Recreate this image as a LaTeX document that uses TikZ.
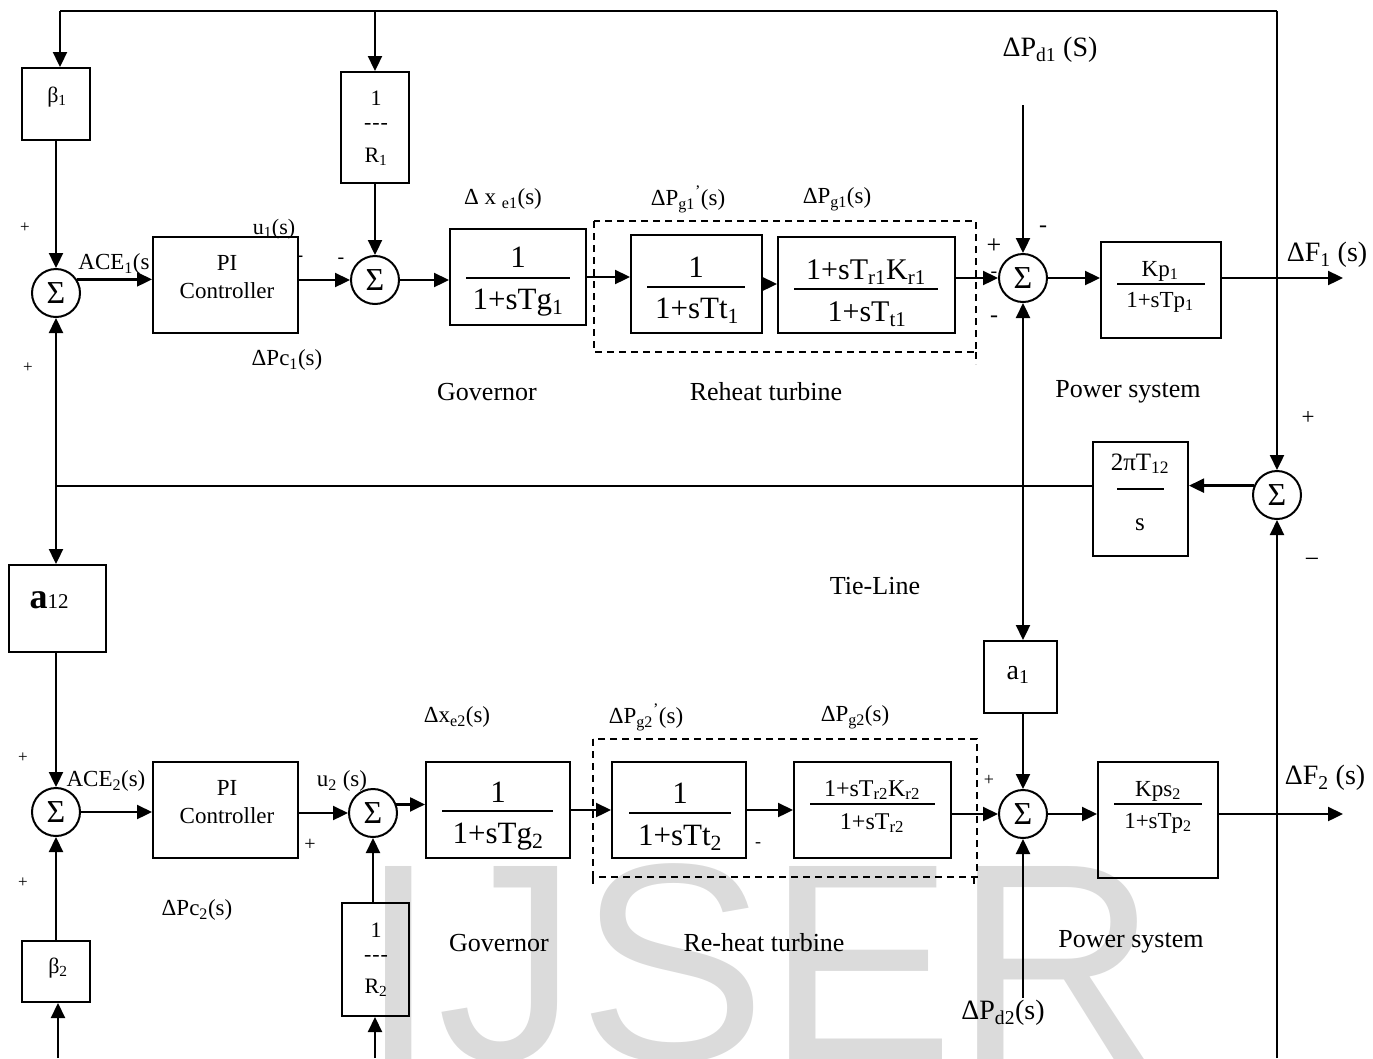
\documentclass[tikz,border=0pt]{standalone}
\usepackage{fontspec}
\setmainfont{Liberation Serif}
\newfontfamily\wmfont{Liberation Sans}
\usetikzlibrary{arrows.meta}
\newcommand\fs[1]{\fontsize{#1}{#1}\selectfont}
\newcommand\sbb[1]{\textsubscript{#1}}
\newcommand\tdash{-\kern1pt-\kern1pt-}
\begin{document}
\begin{tikzpicture}[x=1pt,y=-1pt,
  >={Triangle[length=15pt,width=14pt]},
  conn/.style={line width=2.3pt},
  box/.style={draw, line width=2pt, inner sep=0pt},
  sumn/.style={draw, circle, line width=2pt, minimum size=48pt, inner sep=0pt, font=\fs{32}},
  lbl/.style={inner sep=0pt},
  fr/.style={inner sep=0pt, anchor=base},
  bar/.style={line width=1.7pt},
  dbox/.style={line width=1.7pt, dash pattern=on 7pt off 5pt},
]
\useasboundingbox (0,0) rectangle (1373,1058);
\clip (0,0) rectangle (1373,1058);

% watermark
\node[inner sep=0pt, anchor=base west, text=black!14, font=\wmfont\fs{282}] (wm) at (359,1060) {IJSER};

% ---------- blocks ----------
\node[box, minimum width=68pt, minimum height=72pt] (bet1) at (56,104) {};
\node[box, minimum width=68pt, minimum height=111pt] (r1) at (375,127.5) {};
\node[box, minimum width=145pt, minimum height=96pt] (pi1) at (225.5,285) {};
\node[box, minimum width=136pt, minimum height=96pt] (gov1) at (518,277) {};
\node[box, minimum width=131pt, minimum height=98pt] (t11) at (696.5,284) {};
\node[box, minimum width=177pt, minimum height=96pt] (t21) at (866.5,285) {};
\node[box, minimum width=120pt, minimum height=96pt] (kp1) at (1161,290) {};
\node[box, minimum width=95pt, minimum height=114pt] (tie) at (1140.5,499) {};
\node[box, minimum width=97pt, minimum height=87pt] (a12) at (57.5,608.5) {};
\node[box, minimum width=73pt, minimum height=72pt] (a1) at (1020.5,677) {};
\node[box, minimum width=145pt, minimum height=96pt] (pi2) at (225.5,810) {};
\node[box, minimum width=144pt, minimum height=96pt] (gov2) at (498,810) {};
\node[box, minimum width=134pt, minimum height=96pt] (t12) at (679,810) {};
\node[box, minimum width=157pt, minimum height=96pt] (t22) at (872.5,810) {};
\node[box, minimum width=120pt, minimum height=116pt] (kp2) at (1158,820) {};
\node[box, minimum width=68pt, minimum height=61pt] (bet2) at (56,971.5) {};
\node[box, minimum width=67pt, minimum height=113pt] (r2) at (375,959.5) {};

% summing junctions
\node[sumn] (s1) at (56,293) {Σ};
\node[sumn] (s2) at (375,280) {Σ};
\node[sumn] (s3) at (1023,278) {Σ};
\node[sumn] (s4) at (1277,495) {Σ};
\node[sumn] (s5) at (1023,814) {Σ};
\node[sumn] (s6) at (56,812) {Σ};
\node[sumn] (s7) at (373,813) {Σ};

% dashed turbine frames
\draw[dbox] (594,221) rectangle (976,352);
\draw[dbox] (976,352) -- (976,364);
\draw[dbox] (593,739) rectangle (977,877);
\draw[dbox] (593,877) -- (593,889);
\draw[dbox] (974,877) -- (974,889);

% ---------- block contents ----------
\node[lbl, font=\fs{22}] (bet1t) at (57,97) {β\sbb{1}};
\node[fr, font=\fs{22}] (r1n) at (376,105) {1};
\node[lbl, font=\fs{22}] (r1d) at (376,126) {\tdash};
\node[fr, font=\fs{22}] (r1r) at (376,162) {R\sbb{1}};
\node[fr, font=\fs{23}] (pi1a) at (227,270) {PI};
\node[fr, font=\fs{23}] (pi1b) at (227,298) {Controller};

\node[fr, font=\fs{31}] (g1n) at (518,267) {1};
\draw[bar] (466,278) -- (570,278);
\node[fr, font=\fs{31}] (g1d) at (518,309) {1+sTg\sbb{1}};

\node[fr, font=\fs{31}] (t11n) at (696,277) {1};
\draw[bar] (647,287) -- (745,287);
\node[fr, font=\fs{31}] (t11d) at (697,318) {1+sTt\sbb{1}};

\node[fr, font=\fs{30}] (t21n) at (866,279) {1+sT\sbb{r1}K\sbb{r1}};
\draw[bar] (794,289) -- (938,289);
\node[fr, font=\fs{30}] (t21d) at (867,321) {1+sT\sbb{t1}};

\node[fr, font=\fs{23}] (kp1n) at (1160,276) {Kp\sbb{1}};
\draw[bar] (1117,284) -- (1205,284);
\node[fr, font=\fs{23}] (kp1d) at (1160,307) {1+sTp\sbb{1}};

\node[fr, font=\fs{25}] (tien) at (1140,470) {2πT\sbb{12}};
\draw[bar] (1117,489) -- (1164,489);
\node[fr, font=\fs{25}] (tied) at (1140,530) {s};

\node[lbl] (a12t) at (49,600) {{\fs{36}\bfseries a}{\fs{21}12}};
\node[lbl, font=\fs{28}] (a1t) at (1018,675) {a\sbb{1}};

\node[fr, font=\fs{23}] (pi2a) at (227,795) {PI};
\node[fr, font=\fs{23}] (pi2b) at (227,823) {Controller};

\node[fr, font=\fs{31}] (g2n) at (498,802) {1};
\draw[bar] (442,811) -- (553,811);
\node[fr, font=\fs{31}] (g2d) at (498,843) {1+sTg\sbb{2}};

\node[fr, font=\fs{31}] (t12n) at (680,803) {1};
\draw[bar] (629,813) -- (731,813);
\node[fr, font=\fs{31}] (t12d) at (680,845) {1+sTt\sbb{2}};

\node[fr, font=\fs{24}] (t22n) at (872,796) {1+sT\sbb{r2}K\sbb{r2}};
\draw[bar] (810,804) -- (935,804);
\node[fr, font=\fs{24}] (t22d) at (872,829) {1+sT\sbb{r2}};

\node[fr, font=\fs{23}] (kp2n) at (1158,796) {Kps\sbb{2}};
\draw[bar] (1114,804) -- (1202,804);
\node[fr, font=\fs{23}] (kp2d) at (1158,828) {1+sTp\sbb{2}};

\node[lbl, font=\fs{22}] (bet2t) at (58,968) {β\sbb{2}};
\node[fr, font=\fs{22}] (r2n) at (376,937) {1};
\node[lbl, font=\fs{22}] (r2d) at (376,958) {\tdash};
\node[fr, font=\fs{22}] (r2r) at (376,993) {R\sbb{2}};

% ---------- named end points ----------
\coordinate (tl) at (60,11);
\coordinate (tr1) at (375,11);
\coordinate (tr) at (1277,11);
\coordinate (pd1) at (1023,105);
\coordinate (f1) at (1343,278);
\coordinate (tj) at (1093,486);
\coordinate (tjl) at (56,486);
\coordinate (f2) at (1343,814);
\coordinate (pd2) at (1023,998);
\coordinate (bs4) at (1277,1058);
\coordinate (br2) at (375,1058);
\coordinate (bb2) at (58,1058);

% ---------- connectors ----------
\draw[conn] (tl) -- (tr);
\draw[conn,->] (tl) -- (tl |- bet1.north);
\draw[conn,->] (tr1) -- (r1.north);
\draw[conn,->] (tr) -- (s4.north);
\draw[conn,->] (bet1.south) -- (s1.north);
\draw[conn,->] (s1.33) -- (s1.33 -| pi1.west);
\draw[conn,->] (pi1.east |- s2.west) -- (s2.west);
\draw[conn,->] (r1.south) -- (s2.north);
\draw[conn,->] (s2.east) -- (s2.east -| gov1.west);
\draw[conn,->] (gov1.east) -- (gov1.east -| t11.west);
\draw[conn,->] (t11.east) -- (t11.east -| t21.west);
\draw[conn,->] (t21.east |- s3.west) -- (s3.west);
\draw[conn,->] (pd1) -- (s3.north);
\draw[conn,->] (s3.east) -- (s3.east -| kp1.west);
\draw[conn,->] (kp1.east |- s3.east) -- (f1);
\draw[conn,<->] (s3.south) -- (s3.south |- a1.north);
\draw[line width=1.8pt] (tj) -- (tjl);
\draw[conn,->] (s4.158) -- (s4.158 -| tie.east);
\draw[conn,<->] (s1.south) -- (s1.south |- a12.north);
\draw[conn,->] (s6 |- a12.south) -- (s6.north);
\draw[conn,->] (s6.east) -- (s6.east -| pi2.west);
\draw[conn,->] (pi2.east |- s7.west) -- (s7.west);
\draw[conn,->] (s7.20) -- (s7.20 -| gov2.west);
\draw[conn,->] (s7 |- r2.north) -- (s7.south);
\draw[conn,->] (br2) -- (br2 |- r2.south);
\draw[conn,->] (bet2.north) -- (s6.south);
\draw[conn,->] (bb2) -- (bb2 |- bet2.south);
\draw[conn,->] (gov2.east) -- (gov2.east -| t12.west);
\draw[conn,->] (t12.east) -- (t12.east -| t22.west);
\draw[conn,->] (t22.east |- s5.west) -- (s5.west);
\draw[conn,->] (s5 |- a1.south) -- (s5.north);
\draw[conn,->] (s5.east) -- (s5.east -| kp2.west);
\draw[conn,->] (kp2.east |- s5.east) -- (f2);
\draw[conn,->] (pd2) -- (s5.south);
\draw[conn,->] (bs4) -- (s4.south);

% ---------- labels ----------
\node[lbl, font=\fs{17}] (p1) at (25,228) {+};
\node[lbl, font=\fs{17}] (p2) at (28,368) {+};
\node[lbl, font=\fs{23}] (ace1) at (114,264) {ACE\sbb{1}(s};
\node[lbl, font=\fs{22}] (u1) at (274,229) {u\sbb{1}(s)};
\node[lbl, font=\fs{20}] (m1) at (300,259) {-};
\node[lbl, font=\fs{20}] (m2) at (341,261) {-};
\node[lbl, font=\fs{23}] (pc1) at (287,360) {ΔPc\sbb{1}(s)};
\node[lbl, font=\fs{23}] (xe1) at (503,199) {Δ x \sbb{e1}(s)};
\node[lbl, font=\fs{23}] (pg1a) at (688,199) {ΔP\sbb{g1}\textsuperscript{'}(s)};
\node[lbl, font=\fs{23}] (pg1b) at (837,199) {ΔP\sbb{g1}(s)};
\node[lbl, font=\fs{28}] (pd1t) at (1050,50) {ΔP\sbb{d1} (S)};
\node[lbl, font=\fs{26}] (p3) at (994,246) {+};
\node[lbl, font=\fs{20}] (m3) at (994,275) {-};
\node[lbl, font=\fs{24}] (m4) at (1043,229) {-};
\node[lbl, font=\fs{24}] (m5) at (994,319) {-};
\node[lbl, font=\fs{28}] (f1t) at (1327,255) {ΔF\sbb{1} (s)};
\node[lbl, font=\fs{26}] (gv1) at (487,392) {Governor};
\node[lbl, font=\fs{26}] (rh1) at (766,392) {Reheat turbine};
\node[lbl, font=\fs{26}] (ps1) at (1128,392) {Power system};
\node[lbl, font=\fs{23}] (p4) at (1308,418) {+};
\node[lbl, font=\fs{26}] (m6) at (1312,563) {−};
\node[lbl, font=\fs{26}] (tl1) at (875,586) {Tie-Line};
\node[lbl, font=\fs{17}] (p5) at (23,758) {+};
\node[lbl, font=\fs{17}] (p6) at (23,883) {+};
\node[lbl, font=\fs{23}] (ace2) at (106,781) {ACE\sbb{2}(s)};
\node[lbl, font=\fs{23}] (u2) at (342,781) {u\sbb{2} (s)};
\node[lbl, font=\fs{20}] (p7) at (310,845) {+};
\node[lbl, font=\fs{23}] (pc2) at (197,910) {ΔPc\sbb{2}(s)};
\node[lbl, font=\fs{23}] (xe2) at (457,717) {Δx\sbb{e2}(s)};
\node[lbl, font=\fs{23}] (pg2a) at (646,717) {ΔP\sbb{g2}\textsuperscript{'}(s)};
\node[lbl, font=\fs{23}] (pg2b) at (855,717) {ΔP\sbb{g2}(s)};
\node[lbl, font=\fs{18}] (m7) at (758,845) {-};
\node[lbl, font=\fs{18}] (p8) at (989,780) {+};
\node[lbl, font=\fs{26}] (gv2) at (499,943) {Governor};
\node[lbl, font=\fs{26}] (rh2) at (764,943) {Re-heat turbine};
\node[lbl, font=\fs{26}] (ps2) at (1131,942) {Power system};
\node[lbl, font=\fs{28}] (f2t) at (1325,778) {ΔF\sbb{2} (s)};
\node[lbl, font=\fs{28}] (pd2t) at (1003,1013) {ΔP\sbb{d2}(s)};
\end{tikzpicture}
\end{document}
